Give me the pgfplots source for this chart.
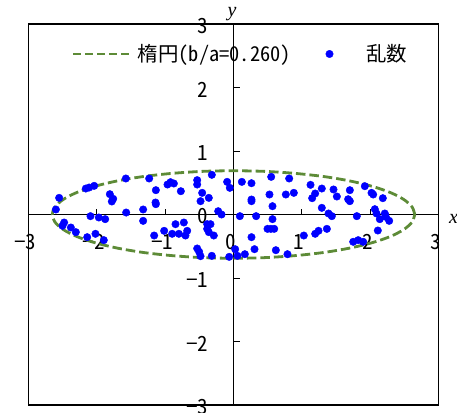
\documentclass[border=0pt]{standalone}
\usepackage{pgfplots}
\pgfplotsset{compat=1.18}
\usepackage{fontspec}
\setmainfont{Noto Sans CJK JP}[RawFeature=+hwid]
\newfontfamily\labfont{Liberation Serif}
\definecolor{ellgreen}{RGB}{93,139,55}
\definecolor{dotblue}{RGB}{0,0,255}
\pgfplotstableread{
x y
2.650 0.000
2.610 0.120
2.490 0.236
2.295 0.345
2.030 0.443
1.703 0.528
1.325 0.597
0.906 0.647
0.460 0.679
0.000 0.689
-0.460 0.679
-0.906 0.647
-1.325 0.597
-1.703 0.528
-2.030 0.443
-2.295 0.345
-2.490 0.236
-2.610 0.120
-2.650 0.000
-2.610 -0.120
-2.490 -0.236
-2.295 -0.345
-2.030 -0.443
-1.703 -0.528
-1.325 -0.597
-0.906 -0.647
-0.460 -0.679
0.000 -0.689
0.460 -0.679
0.906 -0.647
1.325 -0.597
1.703 -0.528
2.030 -0.443
2.295 -0.345
2.490 -0.236
2.610 -0.120
2.650 0.000
}\ellipsetable
\pgfplotstableread{
x y
-1.574 0.567
-1.233 0.567
-0.531 0.541
-0.531 0.472
-0.317 0.625
-0.093 0.514
-0.054 0.420
0.122 0.514
0.263 0.493
0.551 0.593
0.814 0.567
1.126 0.467
1.920 0.446
-2.159 0.409
-2.110 0.425
-2.037 0.451
-2.549 0.262
-2.597 0.079
-1.808 0.320
-1.759 0.247
-1.779 0.205
-1.135 0.383
-0.965 0.472
-0.921 0.509
-0.872 0.488
-0.770 0.367
-0.458 0.341
-0.361 0.262
-0.482 0.210
-1.140 0.189
-1.135 0.163
0.263 0.236
0.263 0.210
0.526 0.315
0.765 0.315
0.882 0.341
1.194 0.331
1.150 0.257
1.291 0.409
1.462 0.394
1.511 0.283
1.701 0.383
1.676 0.241
1.701 0.210
2.018 0.341
2.042 0.315
2.183 0.257
0.570 0.131
1.291 0.105
2.066 0.084
2.091 0.016
2.212 0.016
-1.569 0.031
-1.321 0.079
-1.321 -0.100
-2.091 -0.026
-1.969 -0.047
-1.876 -0.073
-0.224 0.052
-0.175 0.000
0.093 -0.026
0.331 -0.026
0.570 -0.073
1.389 0.016
1.438 -0.026
1.803 -0.026
2.139 -0.073
2.227 -0.037
2.276 -0.100
-2.476 -0.126
-2.500 -0.178
-2.378 -0.205
-2.305 -0.278
-2.139 -0.357
-2.018 -0.304
-1.896 -0.404
-1.160 -0.331
-1.014 -0.257
-0.848 -0.152
-0.726 -0.126
-0.897 -0.304
-0.799 -0.304
-0.702 -0.331
-0.677 -0.257
-0.385 -0.152
-0.336 -0.152
-0.385 -0.226
-0.361 -0.278
-0.288 -0.331
0.497 -0.226
0.546 -0.226
0.595 -0.226
0.263 -0.357
1.028 -0.331
1.194 -0.304
1.243 -0.257
1.365 -0.226
1.750 -0.430
1.823 -0.404
1.896 -0.430
2.110 -0.252
-0.531 -0.535
-0.502 -0.588
-0.482 -0.656
-0.317 -0.651
-0.063 -0.667
0.024 -0.546
0.058 -0.651
0.166 -0.625
0.307 -0.546
0.619 -0.562
0.789 -0.625
}\pointstable
\begin{document}
\begin{tikzpicture}
\begin{axis}[
  scale only axis,
  width=410.4bp, height=381bp,
  xmin=-3, xmax=3, ymin=-3, ymax=3,
  axis lines=middle,
  axis line style={-, black, line width=0.9bp},
  xtick={-3,-2,-1,0,1,2,3},
  ytick={-3,-2,-1,0,1,2,3},
  xticklabels={−3,−2,−1,0,1,2,3},
  yticklabels={−3,−2,−1,0,1,2,3},
  hide obscured x ticks=false,
  hide obscured y ticks=false,
  tick align=inside,
  major tick length=6bp,
  tick style={black, line width=0.9bp},
  xticklabel style={anchor=north, inner sep=0pt, yshift=-20bp, xshift=-3bp, font=\fontsize{21}{24}\selectfont},
  yticklabel style={anchor=east, inner sep=0pt, xshift=-25bp, yshift=-2bp, font=\fontsize{21}{24}\selectfont},
  xlabel={\labfont\itshape x},
  ylabel={\labfont\itshape y},
  every axis x label/.style={at={(rel axis cs:1,0.5)}, anchor=west, xshift=7bp, yshift=-4bp, font=\fontsize{20}{24}\selectfont},
  every axis y label/.style={at={(rel axis cs:0.5,1)}, anchor=south, xshift=-1.5bp, yshift=0bp, font=\fontsize{20}{24}\selectfont},
  legend columns=2,
  legend style={at={(rel axis cs:0.1058,0.9213)}, anchor=west, draw=none, fill=none,
    inner sep=0pt, outer sep=0pt, column sep=0pt,
    cells={anchor=west}, nodes={inner sep=0pt},
    font=\fontsize{20.5}{24}\selectfont},
  clip=false,
]
\coordinate (bl) at (rel axis cs:0,0);
\coordinate (tr) at (rel axis cs:1,1);
\addplot[ellgreen, line width=2.8bp, dash pattern=on 9.5bp off 4bp, smooth, no markers,
  legend image code/.code={\draw[ellgreen, line width=2.8bp, dash pattern=on 8bp off 4bp] (0bp,0bp) -- (56.6bp,0bp); \path (63.3bp,0bp);}]
  table[x=x, y=y] {\ellipsetable};
\addlegendentry{楕円(b/a=0.260)}
\addplot[only marks, mark=*, mark size=3.75bp, mark options={fill=dotblue, draw=none}, dotblue,
  legend image code/.code={\path (-38.3bp,0bp); \fill[dotblue] (0bp,0bp) circle (3.75bp); \path (36.7bp,0bp);}]
  table[x=x, y=y] {\pointstable};
\addlegendentry{乱数}
\draw[black, line width=1.2bp] (rel axis cs:0,0) rectangle (rel axis cs:1,1);
\end{axis}
\pgfresetboundingbox
\path ([xshift=-28.3bp,yshift=-7bp]bl) rectangle ([xshift=18.3bp,yshift=24bp]tr);
\end{tikzpicture}
\end{document}
